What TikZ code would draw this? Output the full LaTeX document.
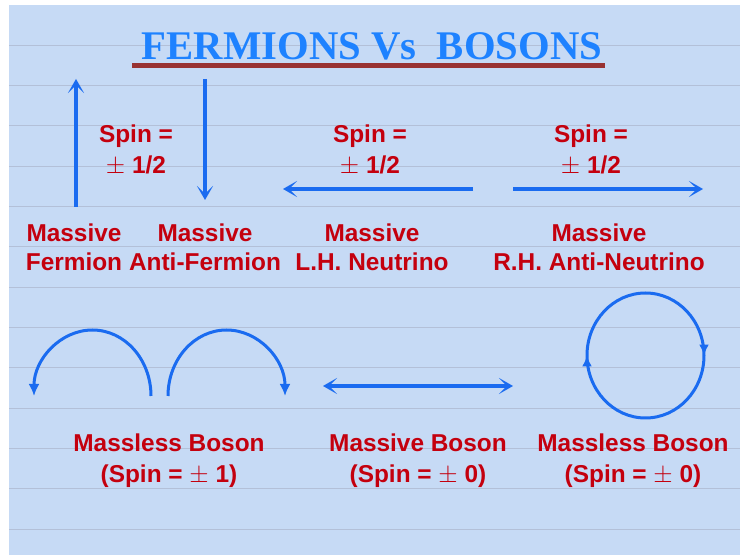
\documentclass[tikz,border=0pt]{standalone}
\usepackage{fontspec}
\setmainfont{Liberation Sans}
\newfontfamily\ttlfont{Liberation Serif}
\usetikzlibrary{arrows.meta,decorations.markings}
\definecolor{paper}{HTML}{C6DAF5}
\definecolor{ruling}{HTML}{B3C0D8}
\definecolor{spinblue}{HTML}{1A6BF0}
\definecolor{ttlblue}{HTML}{1E82FF}
\definecolor{deepred}{HTML}{C4000E}
\definecolor{rust}{HTML}{983232}
\newcommand{\pmhalf}{$\pm$ 1/2}
\tikzset{lbl/.style={text=deepred,font=\fontsize{24.4}{29}\selectfont\bfseries,align=center,inner sep=0pt},
  spinlbl/.style={lbl,font=\fontsize{24.4}{31}\selectfont\bfseries},
  ttl/.style={text=ttlblue,font=\fontsize{40.7}{44}\selectfont\ttlfont\bfseries,inner sep=0pt},
  spinarr/.style={spinblue,line width=3.2pt,>={Stealth[length=14pt,width=16pt,inset=8pt]},->},
  curl/.style={spinblue,line width=3pt,-{Latex[length=12pt,width=11pt]}},
  ring/.style={spinblue,line width=3pt,postaction={decorate},
    decoration={markings,mark=at position 0.25 with {\arrow{Latex[length=11pt,width=10pt]}},
      mark=at position 0.75 with {\arrow{Latex[length=11pt,width=10pt]}}}}}

\begin{document}
\begin{tikzpicture}[x=1pt,y=1pt]
\useasboundingbox (0,0) rectangle (740,555);
\fill[white] (0,0) rectangle (740,555);
\fill[paper] (9,0) rectangle (740,550);
\foreach \i in {0,...,12} \draw[ruling,line width=0.6pt] (9,{510-40.33*\i}) -- (740,{510-40.33*\i});
% title
\node[ttl,anchor=base] (title) at (372,495) {FERMIONS Vs~~BOSONS};
\coordinate (ul1) at (132,489); \coordinate (ul2) at (605,489);
\draw[rust,line width=5pt] (ul1) -- (ul2);
% fermions
\node[lbl] (ferm) at (74,307.5) {Massive\\Fermion};
\node[lbl] (aferm) at (205,307.5) {Massive\\Anti-Fermion};
\node[lbl] (lhnu) at (372,307.5) {Massive\\L.H. Neutrino};
\node[lbl] (rhnu) at (599,307.5) {Massive\\R.H. Anti-Neutrino};
\node[spinlbl] (sp1) at (136,404.5) {Spin =\\\pmhalf};
\node[spinlbl] (sp2) at (370,404.5) {Spin =\\\pmhalf};
\node[spinlbl] (sp3) at (591,404.5) {Spin =\\\pmhalf};
\coordinate (f0) at (76,348); \coordinate (f1) at (76,476);
\draw[spinarr] (f0) -- (f1);
\coordinate (af0) at (205,476); \coordinate (af1) at (205,355);
\draw[spinarr] (af0) -- (af1);
\coordinate (n0) at (473,366); \coordinate (n1) at (283,366);
\draw[spinarr] (n0) -- (n1);
\coordinate (an0) at (513,366); \coordinate (an1) at (703,366);
\draw[spinarr] (an0) -- (an1);
% bosons
\node[spinlbl] (bos1) at (169,94.5) {Massless Boson\\(Spin = $\pm$ 1)};
\node[spinlbl] (bos2) at (418,94.5) {Massive Boson\\(Spin = $\pm$ 0)};
\node[spinlbl] (bos3) at (633,94.5) {Massless Boson\\(Spin = $\pm$ 0)};
\coordinate (g0) at (151,159); \coordinate (g1) at (168,159);
\draw[curl] (g0) arc[start angle=0,end angle=180,x radius=58.5,y radius=66];
\draw[curl] (g1) arc[start angle=180,end angle=0,x radius=58.5,y radius=66];
\coordinate (h0) at (323,169); \coordinate (h1) at (513,169);
\draw[spinarr,<->] (h0) -- (h1);
\coordinate (z0) at (645.5,262);
\draw[ring] (z0) arc[start angle=90,end angle=-270,x radius=58.5,y radius=62.5];
\end{tikzpicture}
\end{document}
